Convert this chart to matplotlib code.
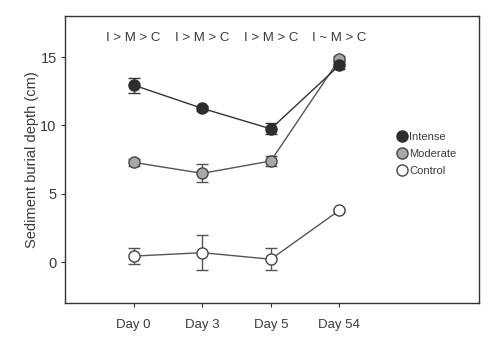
import matplotlib
matplotlib.use("Agg")
import matplotlib.pyplot as plt
from matplotlib.lines import Line2D

plt.rcParams['font.family'] = ['Liberation Sans', 'DejaVu Sans']

days = ["Day 0", "Day 3", "Day 5", "Day 54"]
intense = [12.95, 11.25, 9.75, 14.4]
intense_err = [0.55, 0.2, 0.4, 0.3]
moderate = [7.3, 6.5, 7.4, 14.85]
moderate_err = [0.25, 0.65, 0.4, 0.2]
control = [0.45, 0.7, 0.22, 3.8]
control_err = [0.6, 1.3, 0.8, 0.1]
letters = ["I > M > C", "I > M > C", "I > M > C", "I ~ M > C"]
yticks = [0, 5, 10, 15]

fig = plt.figure(figsize=(4.99, 3.39), dpi=100)
ax = fig.add_axes([65/499, 1-303.3/339, (478.7-65)/499, (303.3-16)/339])

x = list(range(len(days)))
tc = '#3a3a3a'
series = [
    (control, control_err, 'white', '#444444', '#555555'),
    (moderate, moderate_err, '#a8a8a8', '#444444', '#555555'),
    (intense, intense_err, '#2e2e2e', '#2e2e2e', '#333333'),
]
for vals, err, fc, ec, lc in series:
    ax.errorbar(x, vals, yerr=err, color=lc, lw=1.0, marker='o', ms=8,
                mfc=fc, mec=ec, mew=1.0, capsize=4, elinewidth=1.0, capthick=1.0,
                zorder=3)

for xi, t in zip(x, letters):
    ax.text(xi, 16.4, t, ha='center', va='center', fontsize=9.5, color=tc)

ax.set_xlim(-1, 5.03)
ax.set_ylim(-3, 18)
ax.set_xticks(x)
ax.set_xticklabels(days, fontsize=9.5, color=tc)
ax.set_yticks(yticks)
ax.set_yticklabels([str(v) for v in yticks], fontsize=10.5, color=tc)
ax.tick_params(direction='out', length=3, width=0.8, color='#333333', pad=3)
ax.tick_params(axis='x', pad=8)
for s in ax.spines.values():
    s.set_color('#333333')
    s.set_linewidth(1.0)
ax.set_ylabel("Sediment burial depth (cm)", fontsize=10.5, color=tc, labelpad=1)

handles = [
    Line2D([], [], ls='none', marker='o', ms=8, mfc='#2e2e2e', mec='#2e2e2e'),
    Line2D([], [], ls='none', marker='o', ms=8, mfc='#a8a8a8', mec='#444444'),
    Line2D([], [], ls='none', marker='o', ms=8, mfc='white', mec='#444444'),
]
leg = ax.legend(handles, ["Intense", "Moderate", "Control"], loc='center left',
                bbox_to_anchor=(0.787, 0.52), frameon=False, fontsize=8,
                handletextpad=0.1, labelspacing=0.6, handlelength=1.2,
                borderaxespad=0)
for t in leg.get_texts():
    t.set_color(tc)

fig.savefig("out.png", dpi=100)
